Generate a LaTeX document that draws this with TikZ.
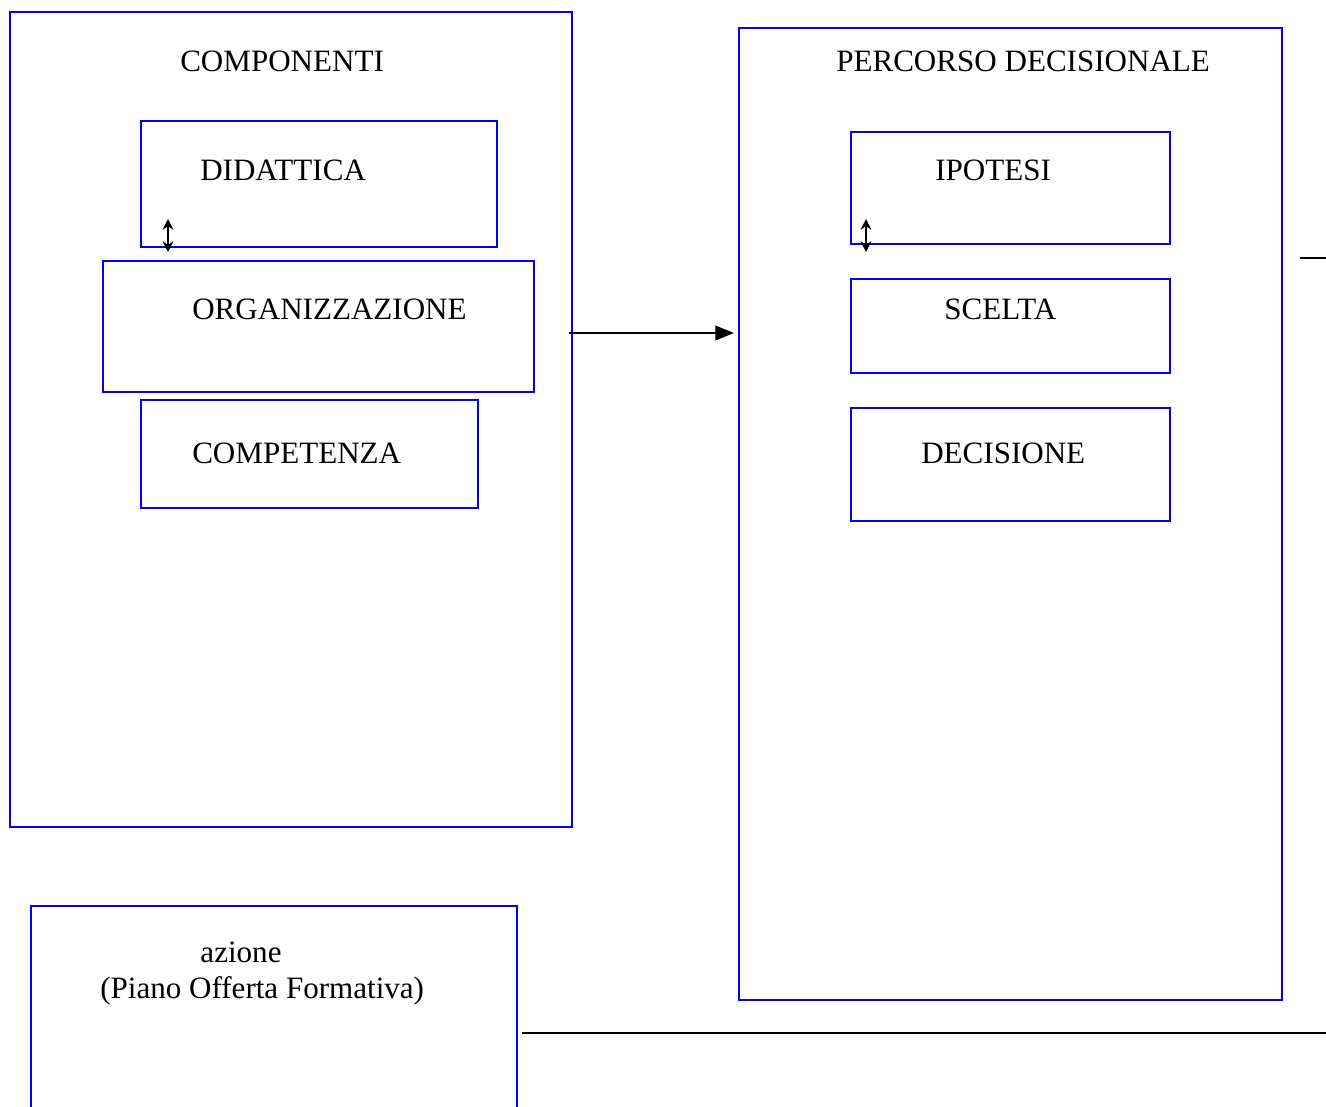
\documentclass[tikz,border=0pt]{standalone}
\usepackage{fontspec}
\setmainfont{Liberation Serif}
\usetikzlibrary{arrows.meta}
\begin{document}
\begin{tikzpicture}[x=0.75pt,y=-0.75pt,
  box/.style={draw={rgb,255:red,0;green,0;blue,255}, line width=1.5pt, anchor=north west, inner sep=0pt},
  lbl/.style={anchor=base west, inner sep=0pt, font=\fontsize{23.3}{28}\selectfont},
  conn/.style={draw=black, line width=1.3pt},
  dbl/.style={draw=black, line width=1.5pt, {Stealth[length=8pt,width=8pt]}-{Stealth[length=8pt,width=8pt]}}]
\useasboundingbox (0,0) rectangle (1326,1106);
\clip (0,0) rectangle (1326,1106);
% left group
\node[box, minimum width=562*0.75pt, minimum height=815*0.75pt] (comp) at (9,11) {};
\node[lbl] (tcomp) at (180,72) {COMPONENTI};
\node[box, minimum width=356*0.75pt, minimum height=126*0.75pt] (did) at (140,120) {};
\node[lbl] (tdid) at (200,180) {DIDATTICA};
\node[box, minimum width=431*0.75pt, minimum height=131*0.75pt] (org) at (102,260) {};
\node[lbl] (torg) at (192,319) {ORGANIZZAZIONE};
\node[box, minimum width=337*0.75pt, minimum height=108*0.75pt] (cpt) at (140,399) {};
\node[lbl] (tcpt) at (192,463) {COMPETENZA};
\coordinate (a1t) at (168,219);
\coordinate (a1b) at (168,252);
\draw[dbl] (a1t) -- (a1b);
% right group
\node[box, minimum width=543*0.75pt, minimum height=972*0.75pt] (perc) at (738,27) {};
\node[lbl] (tperc) at (836,72) {PERCORSO DECISIONALE};
\node[box, minimum width=319*0.75pt, minimum height=112*0.75pt] (ipo) at (850,131) {};
\node[lbl] (tipo) at (935,180) {IPOTESI};
\node[box, minimum width=319*0.75pt, minimum height=94*0.75pt] (sce) at (850,278) {};
\node[lbl] (tsce) at (944,319) {SCELTA};
\node[box, minimum width=319*0.75pt, minimum height=113*0.75pt] (dec) at (850,407) {};
\node[lbl] (tdec) at (921,463) {DECISIONE};
\coordinate (a2t) at (866,219);
\coordinate (a2b) at (866,252);
\draw[dbl] (a2t) -- (a2b);
% main arrow
\coordinate (m1) at (569,333);
\coordinate (m2) at (734,333);
\draw[conn, -{Triangle[length=14pt,width=11pt]}] (m1) -- (m2);
% right edge short line
\coordinate (r1) at (1300,258);
\coordinate (r2) at (1330,258);
\draw[conn] (r1) -- (r2);
% bottom box
\node[box, minimum width=486*0.75pt, minimum height=230*0.75pt] (azi) at (30,905) {};
\node[inner sep=0pt, font=\fontsize{23.3}{28}\selectfont, anchor=base] (tazi) at (241,962) {azione};
\node[lbl] (tpof) at (100,998) {(Piano Offerta Formativa)};
\coordinate (b1) at (522,1033);
\coordinate (b2) at (1330,1033);
\draw[conn] (b1) -- (b2);
\end{tikzpicture}
\end{document}
